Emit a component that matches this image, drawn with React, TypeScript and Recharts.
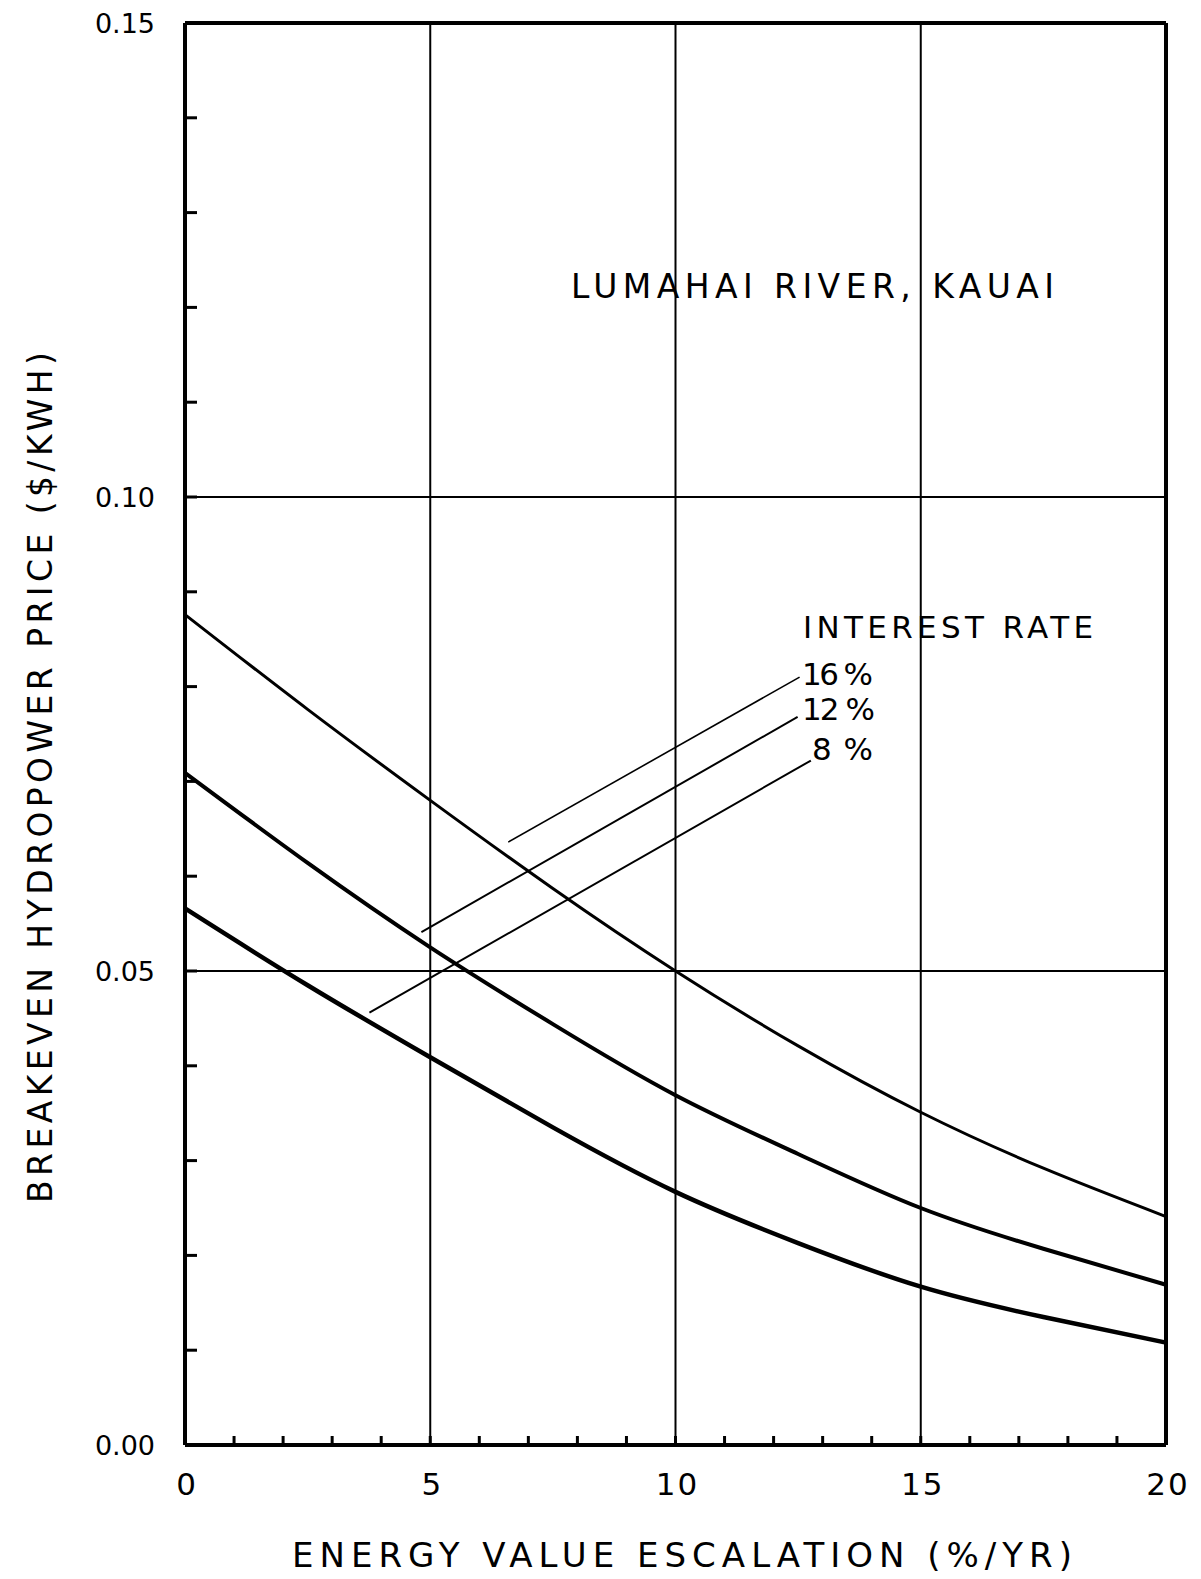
import {
  LineChart,
  Line,
  XAxis,
  YAxis,
  ReferenceLine,
} from "recharts";

// energy value escalation (%/yr)
const escalation = [0, 2.5, 5, 7.5, 10, 12.5, 15, 17.5, 20];

// breakeven price ($/kWh) per interest rate
const rate16 = [0.0876, 0.0776, 0.068, 0.0587, 0.05, 0.0421, 0.0351, 0.0292, 0.0241];
const rate12 = [0.0709, 0.0614, 0.0525, 0.0444, 0.0369, 0.0307, 0.025, 0.0207, 0.0169];
const rate8 = [0.0566, 0.0485, 0.0409, 0.0335, 0.0267, 0.0213, 0.0167, 0.0135, 0.0108];

const xTicks = [0, 1, 2, 3, 4, 5, 6, 7, 8, 9, 10, 11, 12, 13, 14, 15, 16, 17, 18, 19, 20];
const yTicks = [0, 0.01, 0.02, 0.03, 0.04, 0.05, 0.06, 0.07, 0.08, 0.09, 0.1, 0.11, 0.12, 0.13, 0.14, 0.15];
const xGrid = [5, 10, 15];
const yGrid = [0.05, 0.1];

// leader lines from the rate labels to the curves
const leader16 = [{ x: 6.59, y: 0.0636 }, { x: 12.53, y: 0.081 }];
const leader12 = [{ x: 4.82, y: 0.0541 }, { x: 12.49, y: 0.0768 }];
const leader8 = [{ x: 3.76, y: 0.0456 }, { x: 12.76, y: 0.0722 }];

const data = escalation.map((x, i) => ({
  x,
  r16: rate16[i],
  r12: rate12[i],
  r8: rate8[i],
}));

const FONT = "'DejaVu Sans', sans-serif";

const YTick = (props: any) => {
  const { x, y, payload } = props;
  const v = payload.value;
  const major = Math.round(v * 100) % 5 === 0;
  return (
    <g>
      <line x1={x} x2={x + 12} y1={y} y2={y} stroke="#000" strokeWidth={3} />
      {major && (
        <text x={x - 30} y={y + 10} textAnchor="end" fontSize={27} fontFamily={FONT} fill="#000">
          {v.toFixed(2)}
        </text>
      )}
    </g>
  );
};

const XTick = (props: any) => {
  const { x, y, payload } = props;
  const v = payload.value;
  const major = v % 5 === 0;
  return (
    <g>
      <line x1={x} x2={x} y1={y} y2={y - 9} stroke="#000" strokeWidth={3} />
      {major && (
        <text x={x + 2} y={y + 50} textAnchor="middle" fontSize={31} fontFamily={FONT} fill="#000" letterSpacing={2}>
          {v}
        </text>
      )}
    </g>
  );
};

export default function App() {
  return (
    <div style={{ position: "absolute", left: 0, top: 0, width: 1201, height: 1579, background: "#fff" }}>
      <LineChart
        width={1201}
        height={1579}
        data={data}
        margin={{ top: 23, right: 35, bottom: 74, left: 85 }}
      >
        <XAxis
          dataKey="x"
          type="number"
          domain={[0, 20]}
          ticks={xTicks}
          interval={0}
          height={60}
          tickSize={0}
          tickMargin={0}
          axisLine={{ stroke: "#000", strokeWidth: 4 }}
          tickLine={false}
          tick={<XTick />}
        />
        <YAxis
          type="number"
          domain={[0, 0.15]}
          ticks={yTicks}
          interval={0}
          width={100}
          tickSize={0}
          tickMargin={0}
          axisLine={{ stroke: "#000", strokeWidth: 4 }}
          tickLine={false}
          tick={<YTick />}
        />
        {xGrid.map((g) => (
          <ReferenceLine key={"vx" + g} x={g} stroke="#000" strokeWidth={2} />
        ))}
        {yGrid.map((g) => (
          <ReferenceLine key={"hy" + g} y={g} stroke="#000" strokeWidth={2} />
        ))}
        <ReferenceLine y={0.15} stroke="#000" strokeWidth={4} />
        <ReferenceLine x={20} stroke="#000" strokeWidth={4} />
        <ReferenceLine segment={leader16} stroke="#000" strokeWidth={1.6} />
        <ReferenceLine segment={leader12} stroke="#000" strokeWidth={2} />
        <ReferenceLine segment={leader8} stroke="#000" strokeWidth={2} />
        <Line type="natural" dataKey="r16" stroke="#000" strokeWidth={3} dot={false} isAnimationActive={false} />
        <Line type="natural" dataKey="r12" stroke="#000" strokeWidth={4} dot={false} isAnimationActive={false} />
        <Line type="natural" dataKey="r8" stroke="#000" strokeWidth={4.5} dot={false} isAnimationActive={false} />
      </LineChart>
      <svg
        width={1201}
        height={1579}
        style={{ position: "absolute", left: 0, top: 0, pointerEvents: "none" }}
        fontFamily={FONT}
        fill="#000"
      >
        <text x={571} y={298} fontSize={33} textLength={483} lengthAdjust="spacing">
          LUMAHAI RIVER, KAUAI
        </text>
        <text x={803} y={638} fontSize={31} textLength={290} lengthAdjust="spacing">
          INTEREST RATE
        </text>
        <text x={802} y={685} fontSize={31} textLength={71} lengthAdjust="spacing">
          16 %
        </text>
        <text x={802} y={720} fontSize={31} textLength={73} lengthAdjust="spacing">
          12 %
        </text>
        <text x={812} y={760} fontSize={31} textLength={61} lengthAdjust="spacing">
          8 %
        </text>
        <text x={292} y={1567} fontSize={34} textLength={780} lengthAdjust="spacing">
          ENERGY VALUE ESCALATION (%/YR)
        </text>
        <text
          x={0}
          y={0}
          fontSize={33}
          textLength={851}
          lengthAdjust="spacing"
          transform="translate(52, 1203) rotate(-90)"
        >
          BREAKEVEN HYDROPOWER PRICE ($/KWH)
        </text>
      </svg>
    </div>
  );
}
